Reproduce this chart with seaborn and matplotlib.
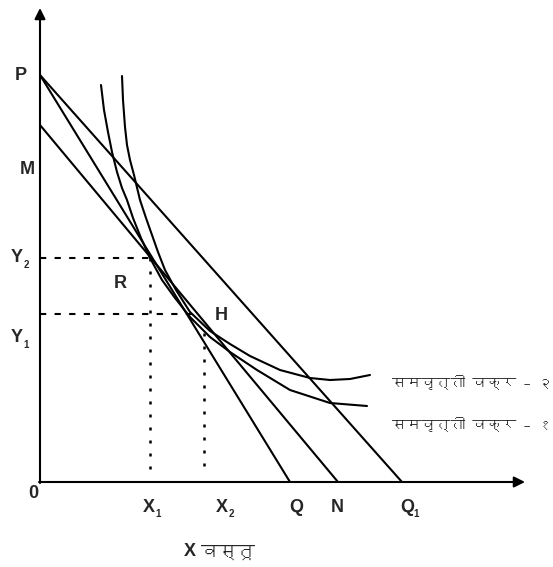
import matplotlib
matplotlib.use('Agg')
import matplotlib.pyplot as plt
import seaborn as sns
from matplotlib import font_manager
from matplotlib.ft2font import FT2Font

# indifference curves
ic1_x = [61, 64, 68, 72, 77, 82, 87, 93, 101, 110, 122, 135, 150, 170, 190, 217, 250, 290, 327]
ic1_y = [397, 372, 350, 330, 310, 294, 282, 264, 244, 224, 202, 184, 165, 145, 130, 112, 92, 79, 76]
ic2_x = [82, 83, 85, 87, 90, 94, 100, 106, 112, 118, 125, 136, 150, 170, 190, 210, 240, 270, 290, 310, 330]
ic2_y = [406, 382, 355, 337, 322, 307, 282, 264, 247, 230, 212, 192, 170, 151, 138, 126, 112, 104, 102, 103, 107]

# budget lines: (y intercept, x intercept)
budget_lines = {'PQ': (407, 250), 'PQ1': (407, 362), 'MN': (357, 298)}

# equilibrium points R and H
r_point = (110, 224)
h_point = (160, 168)
x2_pos = 164

ic_labels = ['समवृत्ती वक्र – २', 'समवृत्ती वक्र – १']
x_axis_label = 'वस्तू'


def find_font(ch):
    for f in font_manager.fontManager.ttflist:
        try:
            if ord(ch) in FT2Font(f.fname).get_charmap():
                return f.name
        except Exception:
            pass
    return 'DejaVu Sans'


sns.set_style('white')
plt.rcParams['font.family'] = ['Liberation Sans', 'DejaVu Sans']
plt.rcParams['lines.solid_joinstyle'] = 'round'
deva = find_font('स')

fig = plt.figure(figsize=(5.53, 5.67), dpi=100)
ax = fig.add_axes([0, 0, 1, 1])
ax.set_xlim(-40, 513)
ax.set_ylim(-85, 482)
ax.axis('off')

lw = 1.5
# axes with arrows
ax.annotate('', xy=(0, 474), xytext=(0, -1), arrowprops=dict(arrowstyle='-|>', lw=lw, color='black', mutation_scale=16, shrinkA=0, shrinkB=0))
ax.annotate('', xy=(485, 0), xytext=(-1, 0), arrowprops=dict(arrowstyle='-|>', lw=lw, color='black', mutation_scale=16, shrinkA=0, shrinkB=0))

for name, (yi, xi) in budget_lines.items():
    sns.lineplot(x=[0, xi], y=[yi, 0], color='black', lw=lw, ax=ax)

sns.lineplot(x=ic1_x, y=ic1_y, sort=False, estimator=None, color='black', lw=lw, ax=ax)
sns.lineplot(x=ic2_x, y=ic2_y, sort=False, estimator=None, color='black', lw=lw, ax=ax)

# dashed / dotted guides
ax.plot([0, r_point[0]], [r_point[1], r_point[1]], color='black', lw=1.5, dashes=(3, 4))
ax.plot([0, h_point[0]], [h_point[1], h_point[1]], color='black', lw=1.5, dashes=(3, 4))
ax.plot([r_point[0], r_point[0]], [r_point[1], 6], color='black', lw=1.8, dashes=(1.2, 4))
ax.plot([x2_pos, x2_pos], [149, 6], color='black', lw=1.8, dashes=(1.2, 4))

bold = dict(fontsize=13, fontweight='bold', ha='center', va='center')
sub = dict(fontsize=7, fontweight='bold', ha='center', va='center')
ax.text(-19, 407, 'P', **bold)
ax.text(-13, 312, 'M', **bold)
ax.text(-23, 224, 'Y', **bold)
ax.text(-14, 217, '2', **sub)
ax.text(-23, 144, 'Y', **bold)
ax.text(-14, 137, '1', **sub)
ax.text(-7, -12, '0', **bold)
ax.text(80, 198, 'R', **bold)
ax.text(181, 166, 'H', **bold)
ax.text(109, -26, 'X', **bold)
ax.text(118, -32, '1', **sub)
ax.text(182, -26, 'X', **bold)
ax.text(191, -32, '2', **sub)
ax.text(256, -26, 'Q', **bold)
ax.text(297, -26, 'N', **bold)
ax.text(367, -26, 'Q', **bold)
ax.text(376, -32, '1', **sub)

ax.text(150, -70, 'X', fontsize=13, fontweight='bold', ha='center', va='center')
ax.text(161, -70, x_axis_label, fontsize=13, family=[deva, 'DejaVu Sans'], ha='left', va='center')

ax.text(352, 100, ic_labels[0], fontsize=10.5, family=[deva, 'DejaVu Sans'], ha='left', va='center')
ax.text(352, 58, ic_labels[1], fontsize=10.5, family=[deva, 'DejaVu Sans'], ha='left', va='center')

fig.savefig('out.png', dpi=100)
